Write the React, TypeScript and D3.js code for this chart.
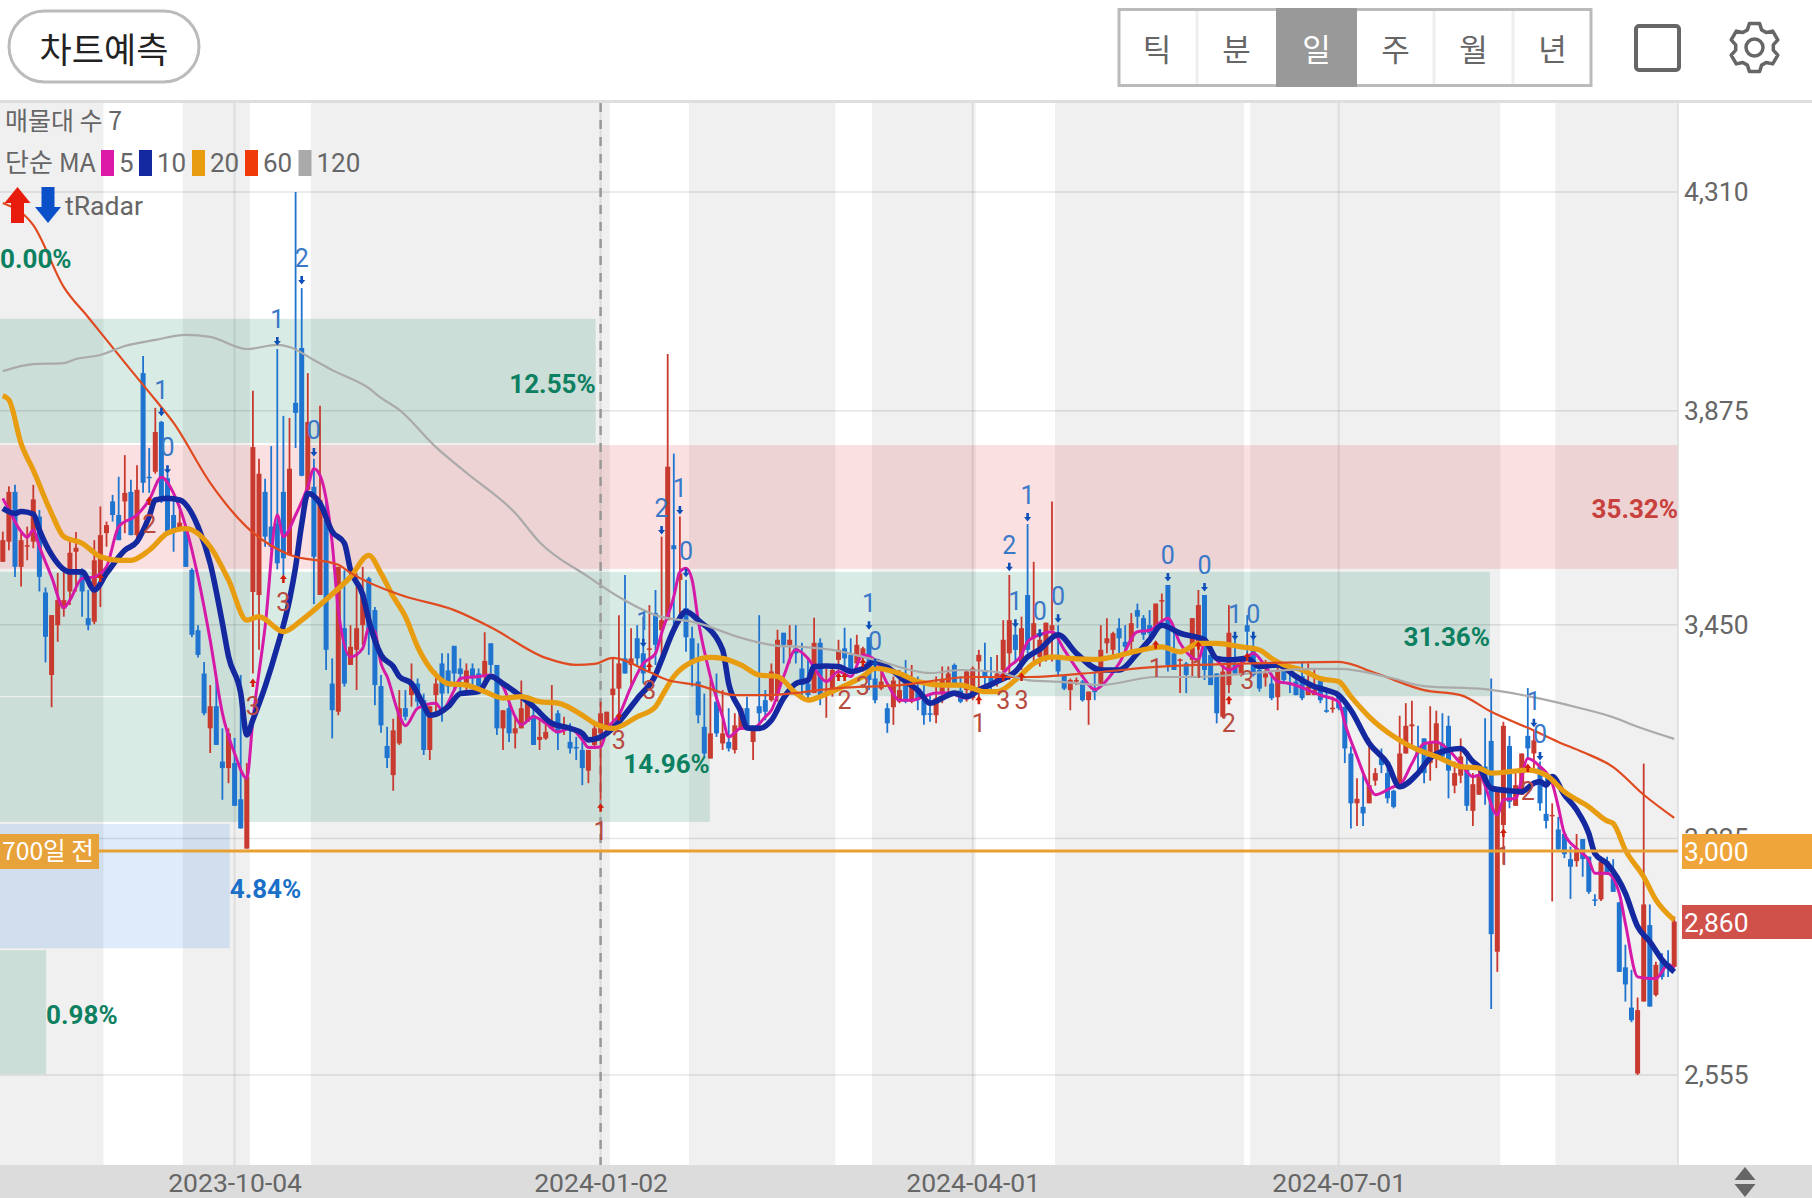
import { useEffect, useRef } from 'react';
import * as d3 from 'd3';

const opens = [
  3575,3615,3714,3565,3605,3615,3665,3514,3350,3449,
  3482,3516,3595,3559,3463,3456,3549,3632,3695,3668,
  3695,3714,3628,3950,3744,3754,3853,3741,3668,3641,
  3645,3559,3439,3353,3244,3288,3178,3165,3175,3103,
  3005,3515,3509,3714,3645,3651,3714,3588,3891,4000,
  3718,3724,3509,3658,3333,3277,3443,3370,3400,3449,
  3542,3479,3328,3209,3151,3214,3284,3310,3333,3300,
  3201,3310,3373,3359,3408,3363,3327,3363,3353,3347,
  3413,3370,3244,3284,3234,3244,3257,3270,3221,3224,
  3244,3274,3244,3217,3207,3201,3160,3211,3234,3244,
  3310,3323,3383,3370,3423,3393,3400,3473,3439,3459,
  3608,3539,3483,3423,3337,3247,3184,3297,3214,3217,
  3201,3241,3284,3217,3288,3300,3300,3310,3434,3410,
  3403,3363,3333,3314,3414,3313,3314,3380,3403,3390,
  3373,3383,3425,3343,3323,3284,3286,3297,3333,3297,
  3323,3300,3274,3270,3314,3330,3370,3319,3320,3304,
  3377,3360,3347,3340,3360,3393,3430,3373,3509,3423,
  3386,3380,3439,3390,3348,3320,3337,3337,3300,3319,
  3333,3413,3400,3443,3416,3416,3479,3463,3449,3446,
  3496,3529,3393,3379,3373,3380,3406,3509,3390,3353,
  3267,3330,3373,3353,3449,3400,3360,3345,3333,3306,
  3360,3333,3337,3348,3310,3310,3340,3280,3282,3310,
  3287,3194,3095,3088,3095,3140,3184,3155,3120,3128,
  3194,3248,3204,3224,3175,3191,3214,3249,3130,3150,
  3165,3080,3112,3168,3219,2800,3052,3209,3090,3112,
  3229,3194,3168,3074,3070,3043,3034,2984,2980,3024,
  2989,2904,2904,2980,2946,2898,2769,2689,2558,2701,
  2853,2714,2780,2777,2770,
];

const closes = [
  3618,3714,3565,3618,3608,3699,3545,3426,3469,3499,
  3499,3593,3603,3516,3449,3578,3628,3648,3668,3618,
  3712,3628,3718,3732,3742,3833,3704,3635,3635,3653,
  3565,3430,3390,3274,3288,3211,3165,3234,3090,3045,
  3148,3803,3750,3625,3605,3572,3582,3760,3871,3746,
  3853,3585,3698,3400,3280,3565,3333,3406,3443,3512,
  3440,3330,3250,3185,3240,3284,3267,3337,3297,3201,
  3288,3333,3313,3327,3353,3352,3359,3343,3327,3378,
  3370,3244,3280,3234,3244,3284,3304,3211,3227,3237,
  3257,3234,3250,3204,3204,3165,3201,3244,3274,3277,
  3323,3373,3353,3383,3383,3353,3403,3410,3459,3764,
  3600,3552,3425,3373,3270,3194,3234,3234,3234,3204,
  3250,3284,3241,3241,3274,3277,3357,3420,3410,3420,
  3393,3330,3310,3414,3310,3317,3360,3400,3383,3360,
  3410,3403,3340,3300,3337,3254,3339,3320,3297,3330,
  3300,3270,3272,3304,3340,3353,3330,3297,3357,3363,
  3390,3347,3330,3353,3420,3459,3400,3443,3400,3453,
  3420,3454,3449,3357,3323,3340,3340,3300,3317,3317,
  3400,3423,3433,3423,3406,3453,3466,3430,3433,3492,
  3499,3370,3360,3381,3350,3463,3489,3360,3330,3274,
  3357,3434,3353,3373,3436,3350,3323,3353,3304,3360,
  3340,3330,3310,3304,3327,3320,3300,3278,3285,3284,
  3204,3095,3104,3075,3131,3155,3171,3105,3088,3194,
  3249,3252,3194,3155,3217,3254,3188,3160,3155,3188,
  3090,3133,3153,3145,2835,3125,3249,3098,3131,3194,
  3204,3220,3095,3060,3072,3004,2994,2969,3005,2984,
  2919,2902,2979,2953,2919,2760,2735,2664,2684,2894,
  2691,2774,2750,2767,2860,
];

const highs = [
  3635,3725,3728,3632,3645,3728,3678,3524,3469,3553,
  3555,3621,3634,3562,3519,3618,3685,3655,3708,3744,
  3787,3738,3767,3984,3801,3881,3855,3751,3698,3688,
  3645,3562,3449,3376,3330,3340,3244,3244,3225,3350,
  3175,3915,3780,3740,3805,3998,3865,3861,4310,4119,
  3950,3780,3885,3708,3383,3565,3558,3449,3552,3565,
  3545,3485,3350,3247,3263,3320,3320,3373,3343,3313,
  3288,3357,3393,3393,3408,3383,3373,3373,3363,3435,
  3413,3370,3280,3297,3270,3339,3310,3300,3263,3257,
  3330,3280,3267,3254,3227,3217,3201,3250,3297,3277,
  3383,3469,3549,3443,3449,3466,3489,3519,3625,3988,
  3790,3665,3539,3446,3413,3313,3340,3353,3320,3284,
  3274,3284,3307,3244,3469,3320,3373,3440,3434,3449,
  3449,3414,3383,3464,3423,3363,3370,3420,3444,3423,
  3430,3406,3425,3373,3363,3294,3347,3360,3380,3370,
  3347,3333,3310,3347,3367,3367,3373,3347,3360,3367,
  3400,3414,3386,3390,3459,3549,3446,3466,3650,3575,
  3440,3454,3695,3449,3348,3343,3345,3340,3317,3357,
  3449,3463,3436,3463,3449,3473,3492,3469,3479,3492,
  3512,3529,3436,3383,3376,3463,3519,3509,3390,3353,
  3373,3489,3426,3386,3469,3436,3367,3380,3353,3367,
  3367,3360,3347,3377,3373,3363,3343,3317,3307,3314,
  3287,3208,3145,3151,3224,3165,3204,3178,3122,3269,
  3294,3299,3249,3224,3288,3279,3274,3269,3178,3224,
  3198,3155,3168,3264,3343,3125,3257,3229,3155,3194,
  3324,3241,3178,3155,3095,3068,3039,3009,3034,3024,
  2989,2914,2989,2989,2984,2899,2814,2764,2709,3174,
  2894,2780,2797,2803,2870,
];

const lows = [
  3575,3598,3545,3526,3578,3602,3516,3375,3286,3416,
  3466,3489,3516,3466,3439,3451,3485,3605,3655,3618,
  3632,3628,3612,3712,3712,3750,3692,3635,3595,3641,
  3565,3425,3385,3270,3195,3211,3102,3135,3090,3045,
  3005,3353,3400,3605,3598,3560,3548,3588,3801,3745,
  3700,3491,3509,3360,3224,3270,3327,3370,3320,3410,
  3390,3290,3235,3165,3120,3211,3260,3287,3287,3191,
  3181,3267,3257,3313,3320,3313,3320,3327,3313,3337,
  3353,3231,3201,3217,3204,3244,3257,3211,3201,3221,
  3244,3201,3231,3194,3181,3131,3135,3207,3102,3237,
  3244,3274,3353,3323,3367,3333,3370,3370,3370,3459,
  3440,3453,3396,3327,3254,3187,3184,3227,3201,3198,
  3194,3241,3241,3181,3250,3260,3297,3297,3373,3373,
  3373,3310,3297,3314,3290,3265,3307,3360,3360,3353,
  3353,3357,3320,3294,3320,3235,3251,3294,3294,3294,
  3280,3251,3257,3254,3294,3304,3327,3294,3297,3300,
  3304,3327,3314,3327,3340,3340,3373,3360,3393,3373,
  3367,3377,3377,3347,3320,3280,3330,3297,3251,3300,
  3327,3393,3383,3387,3393,3400,3443,3420,3426,3443,
  3446,3357,3360,3314,3314,3347,3347,3340,3330,3254,
  3264,3314,3353,3347,3383,3347,3317,3327,3300,3280,
  3333,3314,3310,3300,3310,3310,3294,3275,3275,3280,
  3175,3045,3050,3050,3095,3130,3155,3095,3085,3127,
  3194,3211,3151,3135,3140,3165,3181,3105,3115,3135,
  3080,3050,3112,3092,2686,2760,2974,3085,3090,3112,
  3181,3165,3080,3045,2900,3002,2986,2905,2969,2949,
  2915,2891,2901,2953,2919,2760,2701,2660,2555,2701,
  2691,2711,2745,2750,2770,
];

// moving averages as [day index, price]
const ma5: [number, number][] = [
  [0,3701],[1,3678],[3,3635],[4,3624],[5,3638],[6,3605],[8,3545],[10,3484],[11,3499],[13,3542],[15,3545],[17,3565],[19,3645],[22,3668],[24,3698],[26,3743],[28,3711],[30,3645],[32,3545],[34,3419],[36,3274],[38,3194],[40,3145],[41,3261],[43,3446],[45,3668],[46,3625],[48,3668],[50,3724],[51,3760],[52,3747],[54,3612],[55,3479],[57,3386],[59,3403],[60,3443],[61,3436],[62,3373],[63,3347],[65,3270],[66,3249],[68,3284],[71,3294],[72,3280],[74,3320],[75,3343],[78,3347],[80,3350],[82,3327],[84,3267],[85,3251],[87,3267],[89,3254],[91,3237],[93,3244],[95,3221],[96,3206],[98,3207],[99,3241],[101,3270],[103,3327],[105,3373],[107,3393],[108,3433],[110,3506],[111,3555],[112,3562],[113,3539],[114,3459],[116,3347],[118,3267],[119,3227],[121,3244],[123,3244],[125,3267],[126,3280],[128,3347],[130,3400],[132,3383],[134,3347],[135,3337],[137,3357],[139,3347],[141,3390],[143,3380],[145,3333],[147,3300],[149,3300],[151,3307],[153,3314],[155,3314],[158,3304],[160,3323],[163,3340],[165,3367],[167,3390],[168,3416],[170,3430],[172,3436],[174,3400],[177,3347],[179,3321],[181,3340],[183,3373],[186,3436],[188,3439],[191,3463],[193,3413],[196,3380],[197,3413],[199,3380],[201,3360],[203,3373],[205,3393],[207,3367],[209,3337],[211,3333],[214,3320],[216,3310],[219,3297],[220,3254],[222,3188],[224,3128],[225,3112],[228,3128],[229,3131],[231,3174],[233,3214],[235,3217],[237,3201],[239,3174],[241,3148],[242,3151],[245,3072],[246,3102],[248,3105],[250,3184],[252,3168],[254,3135],[255,3088],[256,3035],[258,3005],[260,2982],[261,2956],[263,2956],[265,2916],[266,2856],[268,2750],[270,2747],[271,2747],[273,2774],[274,2767],
];
const ma10: [number, number][] = [
  [0,3681],[2,3671],[3,3675],[5,3670],[6,3638],[8,3589],[11,3555],[13,3555],[15,3519],[17,3552],[20,3598],[22,3615],[24,3665],[25,3698],[27,3701],[29,3698],[32,3645],[34,3572],[36,3453],[37,3387],[39,3314],[40,3231],[41,3261],[43,3327],[45,3406],[47,3499],[48,3565],[49,3650],[50,3711],[52,3691],[54,3635],[56,3612],[57,3559],[59,3510],[60,3459],[62,3390],[64,3367],[65,3347],[67,3333],[69,3290],[70,3270],[71,3272],[73,3287],[75,3313],[78,3317],[80,3347],[82,3333],[85,3307],[87,3287],[90,3254],[93,3244],[95,3234],[96,3221],[99,3234],[101,3257],[104,3303],[107,3350],[108,3380],[110,3440],[112,3476],[114,3459],[118,3400],[119,3333],[121,3277],[122,3245],[124,3244],[126,3260],[128,3304],[130,3333],[132,3340],[133,3367],[135,3368],[137,3367],[139,3357],[141,3363],[143,3377],[146,3357],[148,3337],[150,3320],[152,3294],[154,3304],[156,3314],[158,3307],[160,3320],[163,3337],[166,3357],[168,3386],[170,3401],[173,3430],[176,3393],[180,3360],[183,3360],[186,3393],[188,3420],[190,3449],[193,3433],[197,3420],[199,3383],[201,3380],[204,3383],[206,3367],[209,3370],[212,3347],[215,3327],[217,3320],[219,3310],[221,3280],[224,3214],[227,3174],[229,3128],[232,3155],[234,3185],[237,3201],[239,3204],[241,3178],[242,3168],[244,3125],[247,3120],[249,3118],[251,3135],[252,3138],[253,3131],[254,3148],[256,3112],[258,3082],[260,3035],[261,2995],[263,2975],[266,2916],[268,2850],[270,2820],[272,2784],[274,2760],
];
const ma20: [number, number][] = [
  [0,3905],[1,3897],[3,3810],[5,3757],[8,3671],[10,3625],[13,3612],[16,3585],[19,3578],[21,3578],[24,3598],[27,3632],[30,3641],[34,3605],[37,3539],[40,3459],[42,3466],[46,3436],[49,3459],[53,3500],[57,3545],[60,3588],[62,3552],[64,3506],[66,3466],[68,3406],[71,3350],[73,3333],[76,3330],[79,3317],[82,3304],[85,3307],[88,3297],[91,3294],[95,3270],[97,3254],[100,3244],[104,3267],[107,3287],[108,3307],[110,3347],[113,3376],[116,3385],[118,3383],[121,3370],[124,3350],[127,3347],[130,3314],[132,3300],[134,3307],[137,3323],[141,3347],[143,3363],[147,3353],[150,3337],[154,3330],[157,3330],[161,3317],[163,3317],[166,3340],[169,3373],[172,3386],[175,3383],[179,3381],[182,3386],[186,3398],[190,3406],[193,3396],[196,3413],[199,3413],[203,3406],[206,3400],[208,3383],[210,3370],[213,3360],[216,3343],[219,3337],[221,3307],[224,3267],[228,3228],[232,3201],[235,3188],[239,3168],[242,3165],[244,3155],[247,3158],[250,3161],[253,3151],[256,3118],[260,3088],[263,3060],[264,3055],[266,3002],[269,2949],[271,2903],[274,2863],
];
const ma60: [number, number][] = [
  [0,4288],[5,4244],[10,4121],[14,4061],[21,3956],[25,3897],[28,3851],[34,3732],[40,3644],[47,3589],[55,3569],[57,3553],[65,3510],[66,3506],[74,3479],[80,3445],[89,3384],[94,3370],[97,3372],[100,3384],[106,3356],[109,3340],[114,3330],[120,3310],[125,3310],[137,3324],[147,3330],[159,3346],[168,3346],[180,3356],[189,3366],[208,3374],[219,3376],[225,3354],[233,3320],[239,3310],[244,3277],[250,3245],[255,3217],[259,3197],[264,3167],[269,3112],[274,3066],
];
const ma120: [number, number][] = [
  [0,3954],[5,3968],[10,3970],[12,3978],[16,3986],[20,4004],[25,4016],[30,4026],[34,4022],[40,3998],[45,4006],[47,4002],[51,3976],[54,3956],[60,3920],[62,3901],[65,3877],[71,3803],[76,3752],[84,3672],[88,3614],[96,3545],[101,3505],[107,3469],[114,3453],[121,3424],[127,3408],[131,3406],[136,3400],[143,3380],[152,3354],[157,3360],[163,3356],[168,3340],[174,3336],[180,3330],[189,3346],[195,3346],[215,3362],[219,3362],[227,3346],[233,3328],[243,3322],[250,3308],[258,3286],[264,3266],[268,3247],[274,3223],
];

const priceTicks = [4310, 3875, 3450, 3025, 2555];
const dateTickDays = [38, 98, 159, 219];
const dateTickLabels = ['2023-10-04', '2024-01-02', '2024-04-01', '2024-07-01'];
const selectedDay = 98;

// white (unshaded) day ranges in the background
const whiteBandStart = [16.5, 40.5, 99.5, 136.5, 159.5, 203.5, 245.5];
const whiteBandEnd = [29.5, 50.5, 112.5, 142.5, 172.5, 204.5, 254.5];

// volume-profile zones: price range, last day, colour, label
const zoneTop = [4058, 3807, 3555, 3306, 3054, 2803];
const zoneBottom = [3811, 3561, 3308, 3058, 2807, 2557];
const zoneEndDay = [97.2, 275, 243.8, 115.9, 37.2, 7.1];
const zoneColor = ['#007850', '#dc3232', '#007850', '#007850', '#1e78dc', '#007850'];
const zoneLabel = ['12.55%', '35.32%', '31.36%', '14.96%', '4.84%', '0.98%'];

const sellDays = [26, 27, 45, 49, 51, 108, 111, 112, 105, 142, 143, 165, 168, 166, 170, 173, 191, 197, 202, 205, 251, 252];
const sellPrices = [3873, 3759, 4014, 4135, 3793, 3638, 3678, 3553, 3414, 3449, 3374, 3565, 3664, 3453, 3433, 3463, 3545, 3525, 3428, 3428, 3255, 3189];
const sellCounts = ['1', '0', '1', '2', '0', '2', '1', '0', '1', '1', '0', '2', '1', '1', '0', '0', '0', '0', '1', '0', '1', '0'];

const buyDays = [24, 16, 41, 46, 98, 101, 106, 137, 138, 141, 160, 164, 167, 189, 196, 201, 204, 246, 250];
const buyPrices = [3696, 3543, 3334, 3541, 3086, 3267, 3366, 3346, 3346, 3374, 3300, 3346, 3346, 3410, 3408, 3300, 3386, 3036, 3165];
const buyCounts = ['2', '', '3', '3', '1', '3', '3', '', '2', '3', '1', '3', '3', '1', '1', '2', '3', '1', '2'];

const periodTabs = ['틱', '분', '일', '주', '월', '년'];
const maNames = ['5', '10', '20', '60', '120'];
const maColors = ['#dd1aa8', '#1428a0', '#e89c10', '#f03a08', '#aaaaaa'];

const WIDTH = 1812;
const HEIGHT = 1198;
const PLOT_TOP = 103;
const PLOT_RIGHT = 1678;
const PLOT_BOTTOM = 1165;
const UI_FONT = 'Roboto, "Noto Sans CJK KR", sans-serif';
const KR_FONT = '"Noto Sans CJK KR", Roboto, sans-serif';

export default function App() {
  const svgRef = useRef<SVGSVGElement>(null);

  useEffect(() => {
    if (!svgRef.current) return;
    const root = d3.select(svgRef.current);
    root.selectAll('*').remove();

    const x = d3.scaleLinear().domain([0, 274]).range([2.8, 1674.2]);
    const y = d3.scaleLinear().domain([2555, 4310]).range([1075, 192]);
    const svg = root.append('g').attr('font-family', UI_FONT);

    // plot background with white bands
    svg.append('rect').attr('width', WIDTH).attr('height', HEIGHT).attr('fill', '#fff');
    svg.append('rect').attr('y', PLOT_TOP).attr('width', PLOT_RIGHT).attr('height', PLOT_BOTTOM - PLOT_TOP).attr('fill', '#f0f0f0');
    whiteBandStart.forEach((start, i) => {
      svg.append('rect')
        .attr('x', x(start)).attr('y', PLOT_TOP)
        .attr('width', x(whiteBandEnd[i]) - x(start)).attr('height', PLOT_BOTTOM - PLOT_TOP)
        .attr('fill', '#fff');
    });

    // price zones
    zoneTop.forEach((top, i) => {
      svg.append('rect')
        .attr('x', 0).attr('y', y(top))
        .attr('width', Math.min(x(zoneEndDay[i]), PLOT_RIGHT))
        .attr('height', y(zoneBottom[i]) - y(top))
        .attr('fill', zoneColor[i]).attr('opacity', 0.15);
    });

    // grid
    svg.selectAll('.hgrid').data(priceTicks).enter().append('line')
      .attr('x1', 0).attr('x2', PLOT_RIGHT)
      .attr('y1', d => y(d)).attr('y2', d => y(d))
      .attr('stroke', '#000').attr('stroke-opacity', 0.1).attr('stroke-width', 1.5);
    svg.selectAll('.vgrid').data(dateTickDays).enter().append('line')
      .attr('x1', d => x(d)).attr('x2', d => x(d))
      .attr('y1', PLOT_TOP).attr('y2', PLOT_BOTTOM)
      .attr('stroke', '#000').attr('stroke-opacity', 0.08).attr('stroke-width', 2);
    svg.append('line')
      .attr('x1', PLOT_RIGHT).attr('x2', PLOT_RIGHT).attr('y1', PLOT_TOP).attr('y2', PLOT_BOTTOM)
      .attr('stroke', '#ddd').attr('stroke-width', 1.5);
    svg.append('line')
      .attr('x1', x(selectedDay)).attr('x2', x(selectedDay)).attr('y1', PLOT_TOP).attr('y2', PLOT_BOTTOM)
      .attr('stroke', '#999').attr('stroke-width', 2.5).attr('stroke-dasharray', '9 8');

    // candles
    const days = d3.range(opens.length);
    const candleColor = (i: number) => (closes[i] >= opens[i] ? '#c83a30' : '#1f74d0');
    svg.selectAll('.wick').data(days).enter().append('line')
      .attr('x1', i => x(i)).attr('x2', i => x(i))
      .attr('y1', i => y(highs[i])).attr('y2', i => y(lows[i]))
      .attr('stroke', candleColor).attr('stroke-width', 1.8);
    svg.selectAll('.body').data(days).enter().append('rect')
      .attr('x', i => x(i) - 2.5).attr('width', 5)
      .attr('y', i => y(Math.max(opens[i], closes[i])))
      .attr('height', i => Math.max(1.5, Math.abs(y(opens[i]) - y(closes[i]))))
      .attr('fill', candleColor);

    // moving averages
    const line = d3.line<[number, number]>()
      .x(d => x(d[0]))
      .y(d => y(d[1]))
      .curve(d3.curveMonotoneX);
    const maSeries = [
      { data: ma5, color: '#d61aa8', width: 3 },
      { data: ma10, color: '#1428a0', width: 5.6 },
      { data: ma20, color: '#e89c10', width: 5.2 },
      { data: ma60, color: '#e04a20', width: 2.2 },
      { data: ma120, color: '#aaaaaa', width: 2.2 },
    ];
    maSeries.forEach(s => {
      svg.append('path').datum(s.data)
        .attr('fill', 'none').attr('stroke', s.color).attr('stroke-width', s.width)
        .attr('stroke-linejoin', 'round').attr('d', line);
    });

    // signal arrows and counts
    const smallArrow = 'M-1.3,-4H1.3V0H3.5L0,4.5L-3.5,0H-1.3Z';
    sellDays.forEach((day, i) => {
      const px = x(day);
      const py = y(sellPrices[i]);
      svg.append('path').attr('d', smallArrow).attr('transform', `translate(${px},${py})`).attr('fill', '#0d4fb8');
      svg.append('text').attr('x', px).attr('y', py - 22).attr('dy', '0.36em')
        .attr('text-anchor', 'middle').attr('font-size', 25).attr('fill', '#3a78c8').text(sellCounts[i]);
    });
    buyDays.forEach((day, i) => {
      const px = x(day);
      const py = y(buyPrices[i]);
      svg.append('path').attr('d', smallArrow).attr('transform', `translate(${px},${py}) scale(1,-1)`).attr('fill', '#d0200c');
      svg.append('text').attr('x', px).attr('y', py + 23).attr('dy', '0.36em')
        .attr('text-anchor', 'middle').attr('font-size', 25).attr('fill', '#b84a40').text(buyCounts[i]);
    });

    // zone percentages
    const pctLabel = (text: string, lx: number, ly: number, anchor: string, color: string) => {
      svg.append('text').attr('x', lx).attr('y', ly).attr('dy', '0.36em')
        .attr('text-anchor', anchor).attr('font-size', 26).attr('font-weight', 700)
        .attr('fill', color).text(text);
    };
    pctLabel('0.00%', 0, 259, 'start', '#0c8060');
    pctLabel(zoneLabel[0], x(zoneEndDay[0]), y((zoneTop[0] + zoneBottom[0]) / 2) + 3, 'end', '#0c8060');
    pctLabel(zoneLabel[1], PLOT_RIGHT, y((zoneTop[1] + zoneBottom[1]) / 2) + 2, 'end', '#c8403c');
    pctLabel(zoneLabel[2], x(zoneEndDay[2]), y((zoneTop[2] + zoneBottom[2]) / 2) + 3, 'end', '#0c8060');
    pctLabel(zoneLabel[3], x(zoneEndDay[3]), y((zoneTop[3] + zoneBottom[3]) / 2) + 4, 'end', '#0c8060');
    pctLabel(zoneLabel[4], x(zoneEndDay[4]), y((zoneTop[4] + zoneBottom[4]) / 2) + 3, 'start', '#1a70c8');
    pctLabel(zoneLabel[5], x(zoneEndDay[5]), y((zoneTop[5] + zoneBottom[5]) / 2) + 3, 'start', '#0c8060');

    // price axis
    const priceAxis = svg.append('g')
      .attr('transform', `translate(${PLOT_RIGHT},0)`)
      .call(d3.axisRight(y).tickValues(priceTicks).tickFormat(d3.format(',') as any).tickSize(0).tickPadding(6));
    priceAxis.select('.domain').remove();
    priceAxis.selectAll('text').attr('font-size', 26.4).attr('font-family', UI_FONT).attr('fill', '#666');

    // date axis
    svg.append('rect').attr('y', PLOT_BOTTOM).attr('width', WIDTH).attr('height', HEIGHT - PLOT_BOTTOM).attr('fill', '#dcdcdc');
    const dateAxis = svg.append('g')
      .attr('transform', `translate(0,${PLOT_BOTTOM})`)
      .call(d3.axisBottom(x).tickValues(dateTickDays).tickFormat((_d, i) => dateTickLabels[i]).tickSize(0).tickPadding(8));
    dateAxis.select('.domain').remove();
    dateAxis.selectAll('text').attr('font-size', 26.5).attr('font-family', UI_FONT).attr('fill', '#666');

    // price markers
    const marker = (price: number, color: string, yTop: number, yBottom: number) => {
      svg.append('rect').attr('x', 1682).attr('y', yTop).attr('width', WIDTH - 1682).attr('height', yBottom - yTop).attr('fill', color);
      svg.append('text').attr('x', 1684).attr('y', (yTop + yBottom) / 2).attr('dy', '0.36em')
        .attr('font-size', 26.4).attr('fill', '#fff').text(d3.format(',')(price));
    };
    marker(3000, '#efa53a', 834, 869);
    marker(closes[closes.length - 1], '#d0504a', 905, 939);

    svg.append('line').attr('x1', 0).attr('x2', PLOT_RIGHT).attr('y1', y(3000)).attr('y2', y(3000))
      .attr('stroke', '#e8a030').attr('stroke-width', 3);
    svg.append('rect').attr('x', 0).attr('y', 834).attr('width', 99).attr('height', 35).attr('fill', '#e8a23a');
    svg.append('text').attr('x', 2).attr('y', 851.5).attr('dy', '0.36em')
      .attr('font-size', 24.7).attr('font-family', KR_FONT).attr('fill', '#fff').text('700일 전');

    // legend
    svg.append('text').attr('x', 5).attr('y', 121).attr('dy', '0.36em')
      .attr('font-size', 25).attr('font-family', KR_FONT).attr('fill', '#666').text('매물대 수 7');
    svg.append('text').attr('x', 5).attr('y', 163).attr('dy', '0.36em')
      .attr('font-size', 26).attr('font-family', KR_FONT).attr('fill', '#666').text('단순 MA');
    const swatchX = [101, 139, 192, 245, 298.5];
    maNames.forEach((name, i) => {
      svg.append('rect').attr('x', swatchX[i]).attr('y', 150).attr('width', 13).attr('height', 26).attr('fill', maColors[i]);
      svg.append('text').attr('x', swatchX[i] + 18).attr('y', 163).attr('dy', '0.36em')
        .attr('font-size', 26).attr('fill', '#666').text(name);
    });
    svg.append('path').attr('d', 'M0,-18L13,-2H6.5V18H-6.5V-2H-13Z').attr('transform', 'translate(17.5,205)').attr('fill', '#e81c0c');
    svg.append('path').attr('d', 'M0,18L13,2H6.5V-18H-6.5V2H-13Z').attr('transform', 'translate(48,205)').attr('fill', '#0a50c8');
    svg.append('text').attr('x', 65).attr('y', 205).attr('dy', '0.36em')
      .attr('font-size', 26.6).attr('fill', '#666').text('tRadar');

    // header
    svg.append('rect').attr('y', 100).attr('width', WIDTH).attr('height', 3).attr('fill', '#dedede');
    svg.append('rect').attr('x', 9).attr('y', 11).attr('width', 190).attr('height', 71).attr('rx', 35.5)
      .attr('fill', '#fff').attr('stroke', '#bbb').attr('stroke-width', 3);
    svg.append('text').attr('x', 104).attr('y', 50).attr('dy', '0.36em').attr('text-anchor', 'middle')
      .attr('font-size', 35).attr('font-family', KR_FONT).attr('fill', '#222').text('차트예측');

    const tabEdges = [1117, 1197, 1276, 1357, 1434, 1513, 1592];
    svg.append('rect').attr('x', 1119).attr('y', 9.5).attr('width', 472).attr('height', 76)
      .attr('fill', '#fff').attr('stroke', '#bbb').attr('stroke-width', 3);
    periodTabs.forEach((tab, i) => {
      if (i === 2) {
        svg.append('rect').attr('x', tabEdges[2]).attr('y', 8).attr('width', tabEdges[3] - tabEdges[2]).attr('height', 79).attr('fill', '#999');
      } else if (i > 0 && i !== 3) {
        svg.append('line').attr('x1', tabEdges[i]).attr('x2', tabEdges[i]).attr('y1', 11).attr('y2', 84)
          .attr('stroke', '#eee').attr('stroke-width', 3);
      }
      svg.append('text').attr('x', (tabEdges[i] + tabEdges[i + 1]) / 2).attr('y', 50).attr('dy', '0.36em')
        .attr('text-anchor', 'middle').attr('font-size', 31).attr('font-family', KR_FONT)
        .attr('fill', i === 2 ? '#fff' : '#666').text(tab);
    });

    svg.append('rect').attr('x', 1636).attr('y', 26).attr('width', 43).attr('height', 44).attr('rx', 3)
      .attr('fill', 'none').attr('stroke', '#666').attr('stroke-width', 4);

    // gear icon
    const gearPoints: [number, number][] = [];
    d3.range(6).forEach(k => {
      const a = (k * Math.PI) / 3;
      const deg = Math.PI / 180;
      gearPoints.push([a - 12 * deg, 24.5], [a + 12 * deg, 24.5], [a + 22 * deg, 19], [a + 38 * deg, 19]);
    });
    const gear = d3.lineRadial<[number, number]>().angle(d => d[0]).radius(d => d[1]).curve(d3.curveLinearClosed);
    svg.append('path').attr('d', gear(gearPoints)).attr('transform', 'translate(1754.5,47.5)')
      .attr('fill', 'none').attr('stroke', '#666').attr('stroke-width', 3.5).attr('stroke-linejoin', 'round');
    svg.append('circle').attr('cx', 1754.5).attr('cy', 47.5).attr('r', 8.5)
      .attr('fill', 'none').attr('stroke', '#666').attr('stroke-width', 3.5);

    // resize handle
    svg.append('path').attr('d', 'M1745,1167L1755.5,1180H1734.5Z').attr('fill', '#666');
    svg.append('path').attr('d', 'M1745,1197L1755.5,1184H1734.5Z').attr('fill', '#666');
  }, []);

  return (
    <svg
      ref={svgRef}
      width={WIDTH}
      height={HEIGHT}
      style={{ position: 'absolute', left: 0, top: 0, display: 'block' }}
    />
  );
}
